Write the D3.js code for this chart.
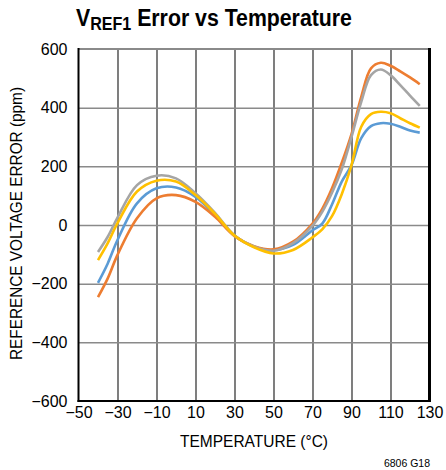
<!DOCTYPE html>
<html><head><meta charset="utf-8">
<script src="https://cdn.jsdelivr.net/npm/d3@7"></script>
<style>
html,body{margin:0;padding:0;background:#fff;}
svg{display:block;}
text{font-family:"Liberation Sans",Arial,Helvetica,sans-serif;fill:#000;}
</style></head>
<body>
<svg id="chart" width="446" height="470"></svg>
<script>
// ---- data ----
const temps = [-40,-35,-30,-20,-10,0,10,20,30,40,50,60,70,75,80,85,90,95,100,105,110,115,120,125];
const seriesBlue   = [-197,-131,-51,74,125,128,96,35,-36,-74,-86,-68,-18,5,70,148,204,296,337,347,345,335,322,315];
const seriesOrange = [-246,-182,-102,23,91,102,79,28,-38,-72,-83,-57,5,55,125,212,310,437,534,553,543,524,503,480];
const seriesGray   = [-92,-40,25,136,168,159,108,41,-36,-73,-88,-62,-2,45,110,190,300,420,511,530,511,477,441,406];
const seriesYellow = [-120,-62,6,114,151,148,102,38,-36,-76,-97,-85,-42,-15,30,105,204,335,378,386,381,364,347,332];
const seriesColors = ["#5b9bd5","#ed7d31","#a5a5a5","#ffc000"];
const xTicks = [-50,-30,-10,10,30,50,70,90,110,130];
const yTicks = [-600,-400,-200,0,200,400,600];

// ---- layout ----
const svg = d3.select("#chart");
const L = 78.5, R = 429.5, T = 49, B = 401;
const x = d3.scaleLinear().domain([-50,130]).range([L,R]);
const y = d3.scaleLinear().domain([-600,600]).range([B,T]);

// vertical grid
svg.append("g").attr("transform",`translate(0,${B})`)
  .call(d3.axisBottom(x).tickValues(xTicks.slice(1,-1)).tickSize(-(B-T)).tickFormat(""))
  .call(g=>g.select(".domain").remove())
  .call(g=>g.selectAll("line").attr("stroke","#3a3a3a").attr("stroke-width",1.3));
// horizontal grid
svg.append("g").attr("transform",`translate(${L},0)`)
  .call(d3.axisLeft(y).tickValues(yTicks.slice(1,-1)).tickSize(-(R-L)).tickFormat(""))
  .call(g=>g.select(".domain").remove())
  .call(g=>g.selectAll("line").attr("stroke","#8a8a8a").attr("stroke-width",1.5));

// frame
svg.append("line").attr("x1",L).attr("x2",R).attr("y1",T).attr("y2",T).attr("stroke","#8a8a8a").attr("stroke-width",2);
svg.append("line").attr("x1",R).attr("x2",R).attr("y1",T-1).attr("y2",B+1).attr("stroke","#000").attr("stroke-width",3);
svg.append("line").attr("x1",L).attr("x2",L).attr("y1",T-1).attr("y2",B+1).attr("stroke","#000").attr("stroke-width",2);
svg.append("line").attr("x1",L-1).attr("x2",R+1).attr("y1",B).attr("y2",B).attr("stroke","#000").attr("stroke-width",2);

// tick labels
const xa = svg.append("g").attr("transform",`translate(0,${B})`)
  .call(d3.axisBottom(x).tickValues(xTicks).tickSize(0).tickPadding(5.5));
xa.select(".domain").remove();
xa.selectAll("text").style("font-size","16px").attr("fill","#000");
const ya = svg.append("g").attr("transform",`translate(${L},0)`)
  .call(d3.axisLeft(y).tickValues(yTicks).tickSize(0).tickPadding(11));
ya.select(".domain").remove();
ya.selectAll("text").style("font-size","16px").attr("fill","#000");
svg.selectAll(".tick text").attr("font-family",null);

// series lines
const line = d3.line().x((d,i)=>x(temps[i])).y(d=>y(d)).curve(d3.curveCatmullRom.alpha(0.5));
[seriesBlue,seriesOrange,seriesGray,seriesYellow].forEach((s,k)=>{
  svg.append("path").datum(s).attr("d",line).attr("fill","none")
    .attr("stroke",seriesColors[k]).attr("stroke-width",2.6).attr("stroke-linejoin","round");
});

// axis titles
svg.append("text").attr("x",254).attr("y",447).attr("text-anchor","middle")
  .style("font-size","17px").attr("textLength",148).attr("lengthAdjust","spacingAndGlyphs")
  .text("TEMPERATURE (°C)");
svg.append("text").attr("transform","translate(22,223.5) rotate(-90)").attr("text-anchor","middle")
  .style("font-size","17px").attr("textLength",273).attr("lengthAdjust","spacingAndGlyphs")
  .text("REFERENCE VOLTAGE ERROR (ppm)");
svg.append("text").attr("x",430).attr("y",467).attr("text-anchor","end")
  .style("font-size","10.5px").text("6806 G18");

// title
const title = svg.append("text").attr("x",0).attr("y",26.5).style("font-weight","bold")
  .style("font-family","'Liberation Sans Narrow','Liberation Sans',Arial,sans-serif");
title.append("tspan").style("font-size","24.5px").text("V");
title.append("tspan").style("font-size","18.5px").attr("dy",3.5).text("REF1");
title.append("tspan").style("font-size","24.5px").attr("dy",-3.5).text("\u00A0Error vs Temperature");
const bb = title.node().getBBox();
const sx = (352-76)/bb.width;
title.attr("transform",`translate(${76 - bb.x*sx},0) scale(${sx},1)`);
</script>
</body></html>
